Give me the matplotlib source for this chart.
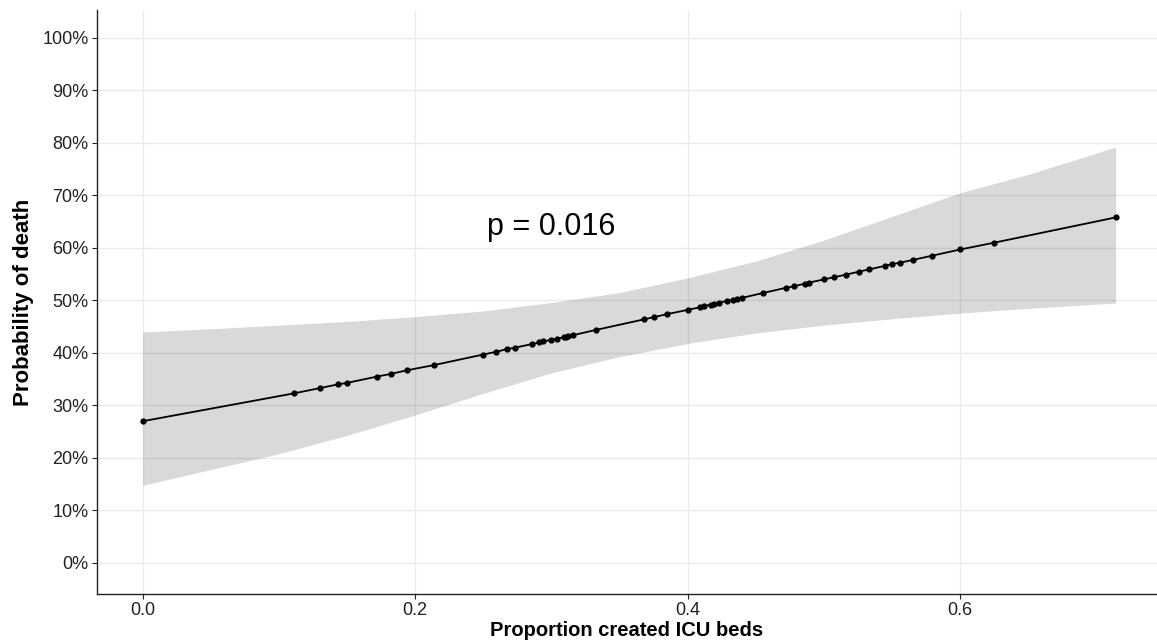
import matplotlib.pyplot as plt
from matplotlib.ticker import FuncFormatter

plt.rcParams['font.family'] = ['Liberation Sans', 'DejaVu Sans']

# observed proportions of created ICU beds and predicted probability of death (%)
prop_beds = [0.000, 0.111, 0.130, 0.143, 0.150, 0.172, 0.182, 0.194, 0.214,
             0.250, 0.259, 0.267, 0.273, 0.286, 0.291, 0.294, 0.300, 0.304,
             0.309, 0.311, 0.312, 0.316, 0.333, 0.368, 0.375, 0.385, 0.400,
             0.409, 0.412, 0.417, 0.419, 0.423, 0.429, 0.433, 0.436, 0.440,
             0.455, 0.472, 0.478, 0.486, 0.489, 0.500, 0.507, 0.516, 0.526,
             0.533, 0.545, 0.550, 0.556, 0.565, 0.579, 0.600, 0.625, 0.714]
prob_death = [27.0, 32.3, 33.3, 34.0, 34.3, 35.5, 36.0, 36.7, 37.7,
              39.7, 40.2, 40.7, 41.0, 41.7, 42.0, 42.2, 42.5, 42.7,
              43.0, 43.1, 43.2, 43.4, 44.4, 46.4, 46.8, 47.4, 48.2,
              48.7, 48.9, 49.2, 49.3, 49.6, 49.9, 50.1, 50.3, 50.5,
              51.4, 52.4, 52.7, 53.2, 53.4, 54.0, 54.4, 54.9, 55.5,
              55.9, 56.6, 56.9, 57.2, 57.7, 58.5, 59.7, 61.0, 65.8]

# confidence band
band_x = [0.0, 0.05, 0.1, 0.15, 0.2, 0.25, 0.3, 0.35, 0.4, 0.45, 0.5,
          0.55, 0.6, 0.65, 0.714]
band_lo = [14.8, 17.8, 20.8, 24.3, 28.2, 32.3, 36.2, 39.3, 41.8, 43.8, 45.3,
           46.5, 47.6, 48.5, 49.5]
band_hi = [44.0, 44.6, 45.3, 46.0, 46.9, 48.0, 49.6, 51.5, 54.3, 57.5, 61.5,
           66.0, 70.5, 74.0, 79.2]

yticks = [0, 10, 20, 30, 40, 50, 60, 70, 80, 90, 100]
xticks = [0.0, 0.2, 0.4, 0.6]

fig = plt.figure(figsize=(11.57, 6.42), dpi=100)
ax = fig.add_axes([0.0838, 0.0748, 0.9162, 0.9096])

ax.set_axisbelow(True)
ax.grid(True, color='#EBEBEB', linewidth=1.0)

ax.fill_between(band_x, band_lo, band_hi, color='black', alpha=0.15,
                linewidth=0)
ax.plot(prop_beds, prob_death, color='black', linewidth=1.3,
        marker='o', markersize=3.5)

ax.text(0.30, 64.0, 'p = 0.016', fontsize=22, ha='center', va='center')

ax.set_xlim(-0.0336, 0.7444)
ax.set_ylim(-5.9, 105.3)
ax.set_xticks(xticks)
ax.set_yticks(yticks)
ax.yaxis.set_major_formatter(FuncFormatter(lambda v, pos: f'{v:.0f}%'))
ax.xaxis.set_major_formatter(FuncFormatter(lambda v, pos: f'{v:.1f}'))

ax.tick_params(axis='both', labelsize=13, colors='#222222', length=3.5,
               width=0.8, pad=2.5)
for side in ['top', 'right']:
    ax.spines[side].set_visible(False)
for side in ['left', 'bottom']:
    ax.spines[side].set_color('#222222')
    ax.spines[side].set_linewidth(1.0)

ax.set_xlabel('Proportion created ICU beds', fontsize=14.5,
              fontweight='bold', labelpad=1)
ax.set_ylabel('Probability of death', fontsize=16, fontweight='bold',
              labelpad=6)

fig.savefig('out.png', dpi=100)
